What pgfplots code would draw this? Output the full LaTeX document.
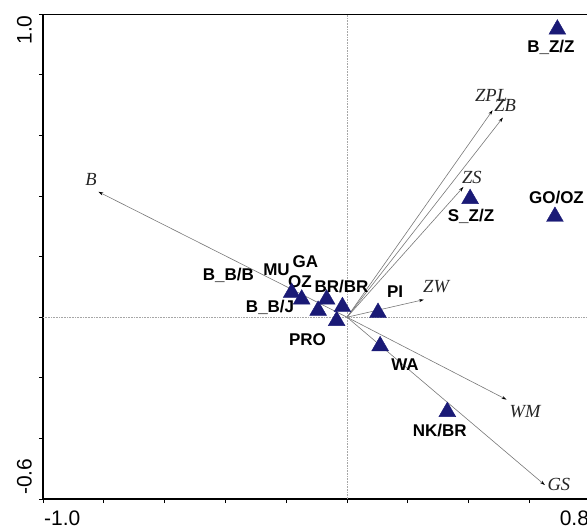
\documentclass[border=0pt]{standalone}
\usepackage{fontspec}
\setmainfont{Liberation Serif}
\setsansfont{Liberation Sans}
\usepackage{pgfplots}
\pgfplotsset{compat=1.18}
\usetikzlibrary{arrows.meta}
\definecolor{tri}{RGB}{26,26,118}
\definecolor{arr}{RGB}{120,120,120}
\newcommand{\smp}{\sffamily\bfseries\fontsize{17bp}{20bp}\selectfont}
\newcommand{\var}{\rmfamily\itshape\fontsize{18.5bp}{22bp}\selectfont\color{black!85}}
\newcommand{\tkl}{\sffamily\fontsize{21bp}{24bp}\selectfont}
\begin{document}
\begin{tikzpicture}
\begin{axis}[
  at={(0,0)}, anchor=south west,
  x=304bp, y=303bp,
  xmin=-1, xmax=0.8, ymin=-0.6, ymax=1.0,
  enlargelimits=false,
  axis line style={line width=1.2bp, black},
  xtick={-1,-0.8,-0.6,-0.4,-0.2,0,0.2,0.4,0.6,0.8},
  ytick={-0.6,-0.4,-0.2,0,0.2,0.4,0.6,0.8,1.0},
  xticklabels=\empty, yticklabels=\empty,
  xtick pos=left, ytick pos=left,
  tick align=outside, major tick length=4bp,
  tick style={black, line width=0.8bp},
  clip=false,
]
% zero lines
\addplot[black!35, densely dotted, line width=0.6bp] coordinates {(0,-0.6) (0,1.0)};
\addplot[black!35, densely dotted, line width=0.6bp] coordinates {(-1,0) (0.8,0)};
% arrows (environmental variables)
\addplot[arr, line width=0.6bp, -{Stealth[length=5bp,width=3bp,black]}] coordinates {(0,0) (-0.818,0.414)};
\addplot[arr, line width=0.6bp, -{Stealth[length=5bp,width=3bp,black]}] coordinates {(0,0) (0.479,0.683)};
\addplot[arr, line width=0.6bp, -{Stealth[length=5bp,width=3bp,black]}] coordinates {(0,0) (0.513,0.659)};
\addplot[arr, line width=0.6bp, -{Stealth[length=5bp,width=3bp,black]}] coordinates {(0,0) (0.383,0.430)};
\addplot[arr, line width=0.6bp, -{Stealth[length=5bp,width=3bp,black]}] coordinates {(0,0) (0.253,0.058)};
\addplot[arr, line width=0.6bp, -{Stealth[length=5bp,width=3bp,black]}] coordinates {(0,0) (0.525,-0.272)};
\addplot[arr, line width=0.6bp, -{Stealth[length=5bp,width=3bp,black]}] coordinates {(0,0) (0.651,-0.554)};
% samples
\addplot[only marks, mark=triangle*, mark size=9.7bp, mark options={fill=tri, draw=tri}] coordinates {
 (0.692,0.950) (0.684,0.332) (0.405,0.391) (0.102,0.015) (0.109,-0.095) (0.330,-0.312)
 (-0.182,0.081) (-0.149,0.059) (-0.095,0.022) (-0.067,0.059) (-0.015,0.034) (-0.034,-0.012)
};
% sample labels
\node[inner sep=0] at (axis cs:0.671,0.891) {\smp B\_Z/Z};
\node[inner sep=0] at (axis cs:0.689,0.394) {\smp GO/OZ};
\node[inner sep=0] at (axis cs:0.408,0.333) {\smp S\_Z/Z};
\node[inner sep=0] at (axis cs:0.158,0.084) {\smp PI};
\node[inner sep=0] at (axis cs:0.191,-0.155) {\smp WA};
\node[inner sep=0] at (axis cs:0.305,-0.373) {\smp NK/BR};
\node[inner sep=0] at (axis cs:-0.232,0.155) {\smp MU};
\node[inner sep=0] at (axis cs:-0.137,0.183) {\smp GA};
\node[inner sep=0] at (axis cs:-0.155,0.117) {\smp OZ};
\node[inner sep=0] at (axis cs:-0.018,0.101) {\smp BR/BR};
\node[inner sep=0] at (axis cs:-0.390,0.139) {\smp B\_B/B};
\node[inner sep=0] at (axis cs:-0.253,0.033) {\smp B\_B/J};
\node[inner sep=0] at (axis cs:-0.130,-0.073) {\smp PRO};
% variable labels
\node[inner sep=0] at (axis cs:-0.842,0.455) {\var B};
\node[inner sep=0] at (axis cs:0.474,0.733) {\var ZPL};
\node[inner sep=0] at (axis cs:0.520,0.700) {\var ZB};
\node[inner sep=0] at (axis cs:0.411,0.462) {\var ZS};
\node[inner sep=0] at (axis cs:0.293,0.102) {\var ZW};
\node[inner sep=0] at (axis cs:0.586,-0.312) {\var WM};
\node[inner sep=0] at (axis cs:0.697,-0.551) {\var GS};
% end tick labels
\node[inner sep=0, anchor=north west] at ([yshift=-12bp,xshift=1bp]axis cs:-1,-0.6) {\tkl -1.0};
\node[inner sep=0, anchor=north east] at ([yshift=-12bp,xshift=-1bp]axis cs:0.8,-0.6) {\tkl 0.8};
\node[inner sep=0, anchor=south east, rotate=90] at ([xshift=-11bp,yshift=-1bp]axis cs:-1,1.0) {\tkl 1.0};
\node[inner sep=0, anchor=south west, rotate=90] at ([xshift=-11bp,yshift=4bp]axis cs:-1,-0.6) {\tkl -0.6};
\end{axis}
\pgfresetboundingbox
\path[use as bounding box] (-43bp,-29bp) rectangle (544bp,499bp);
\end{tikzpicture}
\end{document}
